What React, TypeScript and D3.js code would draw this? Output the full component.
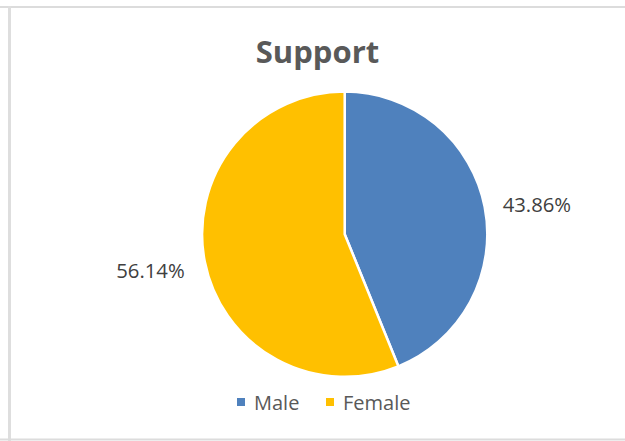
import React from 'react';
import * as d3 from 'd3';

const categories = ['Male', 'Female'];
const shares = [43.86, 56.14];
const colors = ['#4F81BD', '#FFC000'];
const title = 'Support';

const width = 625;
const height = 441;
const cx = 344.7;
const cy = 234.2;
const radius = 142.6;

interface Slice {
    name: string;
    value: number;
}

const App: React.FC = () => {
    const data: Slice[] = categories.map((name, i) => ({ name, value: shares[i] }));

    const pie = d3.pie<Slice>()
        .value(d => d.value)
        .sort(null);
    const arcs = pie(data);

    const arc = d3.arc<d3.PieArcDatum<Slice>>()
        .innerRadius(0)
        .outerRadius(radius);

    const color = d3.scaleOrdinal<string, string>()
        .domain(categories)
        .range(colors);

    // point on the rim at the middle of each slice
    const edge = d3.arc<d3.PieArcDatum<Slice>>()
        .innerRadius(radius * 2)
        .outerRadius(0);

    const fontFamily = '"Open Sans", "Noto Sans", sans-serif';

    return (
        <svg
            width={width}
            height={height}
            style={{ position: 'absolute', left: 0, top: 0, background: '#fff' }}
        >
            {/* cell frame */}
            <line x1={0} x2={width} y1={7} y2={7} stroke="#dcdcdc" strokeWidth={2} />
            <line x1={9.5} x2={9.5} y1={6} y2={height} stroke="#dedede" strokeWidth={3} />
            <line x1={0} x2={width} y1={439.5} y2={439.5} stroke="#dcdcdc" strokeWidth={2} />

            <text
                x={317.5}
                y={63}
                textAnchor="middle"
                fontFamily={fontFamily}
                fontWeight="bold"
                fontSize={31}
                fill="#595959"
            >
                {title}
            </text>

            <g transform={`translate(${cx},${cy})`}>
                {arcs.map(a => (
                    <path
                        key={a.data.name}
                        d={arc(a) ?? ''}
                        fill={color(a.data.name)}
                        stroke="#fff"
                        strokeWidth={2.5}
                        strokeLinejoin="round"
                    />
                ))}
                {arcs.map(a => {
                    const [ex, ey] = edge.centroid(a);
                    const right = ex > 0;
                    return (
                        <text
                            key={a.data.name + '-label'}
                            x={ex + (right ? 18 : -20)}
                            y={ey + (right ? -2.5 : 8)}
                            textAnchor={right ? 'start' : 'end'}
                            dominantBaseline="central"
                            fontFamily={fontFamily}
                            fontSize={20.3}
                            fill="#404040"
                        >
                            {a.data.value.toFixed(2)}%
                        </text>
                    );
                })}
            </g>

            {/* legend */}
            <g transform="translate(237,402)">
                {categories.map((name, i) => {
                    const offset = i === 0 ? 0 : 89;
                    return (
                        <g key={name} transform={`translate(${offset},0)`}>
                            <rect x={0} y={-4} width={8} height={8} fill={color(name)} />
                            <text
                                x={17}
                                y={0}
                                dominantBaseline="central"
                                fontFamily={fontFamily}
                                fontSize={20}
                                fill="#595959"
                            >
                                {name}
                            </text>
                        </g>
                    );
                })}
            </g>
        </svg>
    );
};

export default App;
